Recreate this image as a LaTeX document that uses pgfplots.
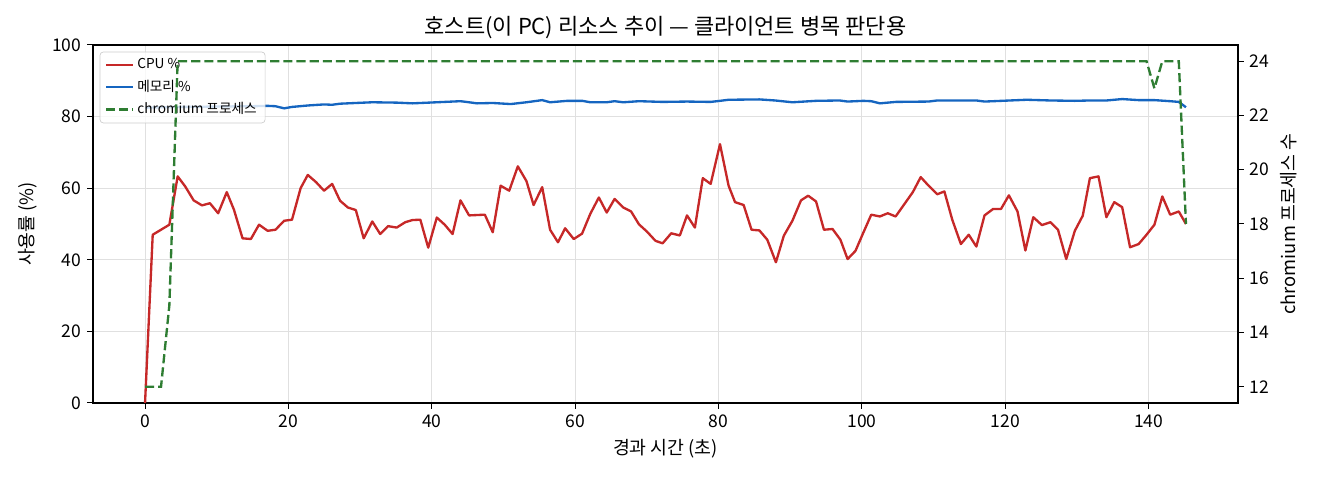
\documentclass[border=0pt]{standalone}
\usepackage{fontspec}
\setmainfont{Noto Sans CJK KR}
\usepackage{pgfplots}
\pgfplotsset{compat=1.18}

\definecolor{cpured}{HTML}{C62828}
\definecolor{memblue}{HTML}{1565C0}
\definecolor{procgreen}{HTML}{2E7D32}

\pgfplotsset{
 /pgf/number format/assume math mode=true,
 every axis/.append style={
  scale only axis,
  width=687pt,
  height=214.8pt,
  xmin=-7.26, xmax=152.46,
  tick align=outside,
  major tick length=3.5pt,
  tick style={black, line width=0.6pt},
  tick label style={font=\fontsize{10.5}{12}\selectfont},
  label style={font=\fontsize{11}{13}\selectfont},
 },
}

\begin{document}
\begin{tikzpicture}
 \begin{axis}[
  ymin=0, ymax=100,
  xtick={0,20,40,60,80,100,120,140},
  ytick={0,20,40,60,80,100},
  xtick pos=bottom,
  ytick pos=left,
  axis line style={line width=0.8pt},
  grid=major,
  major grid style={black!12, line width=0.6pt},
  xlabel={경과 시간 (초)},
  ylabel={사용률 (\%)},
  ylabel style={yshift=2pt},
  title={호스트(이 PC) 리소스 추이 — 클라이언트 병목 판단용},
  title style={font=\fontsize{13.2}{15}\selectfont, yshift=-6pt},
  legend cell align=left,
  legend style={
   at={(rel axis cs:0,1)}, anchor=north west,
   xshift=4pt, yshift=-4pt,
   font=\fontsize{8.2}{9.5}\selectfont,
   draw=black!20, rounded corners=2pt,
   fill=white, fill opacity=0.8, text opacity=1,
   row sep=1.2pt,
  },
  legend image code/.code={\draw[#1, line width=1.4pt] (0pt,0pt) -- (16pt,0pt);},
 ]
  \addplot[color=cpured, line width=1.4pt, line join=round] coordinates {
   (0,0) (1.07,47.0) (2.23,48.4) (3.39,49.8) (4.55,63.3) (5.6,60.5)
   (6.78,56.6) (7.94,55.2) (9.05,55.8) (10.2,53.0) (11.4,58.9) (12.4,54.0)
   (13.6,46.0) (14.76,45.8) (15.9,49.8) (17.1,48.1) (18.2,48.4) (19.4,50.9)
   (20.5,51.2) (21.7,60.0) (22.7,63.7) (23.85,61.7) (24.97,59.3) (26.1,61.2)
   (27.2,56.5) (28.3,54.6) (29.4,53.9) (30.5,46.0) (31.7,50.7) (32.8,47.2)
   (33.9,49.4) (35.1,49.0) (36.3,50.5) (37.3,51.1) (38.4,51.2) (39.5,43.4)
   (40.7,51.8) (41.8,49.8) (42.9,47.2) (44.0,56.6) (45.2,52.4) (46.3,52.5)
   (47.4,52.6) (48.5,47.7) (49.6,60.7) (50.8,59.3) (52.0,66.1) (53.2,62.0)
   (54.2,55.3) (55.4,60.3) (56.5,48.4) (57.6,44.9) (58.6,48.8) (59.8,45.8)
   (60.96,47.3) (62.1,52.8) (63.3,57.4) (64.4,53.2) (65.5,57.0) (66.7,54.6)
   (67.8,53.5) (68.9,49.9) (70.0,47.9) (71.2,45.3) (72.2,44.6) (73.4,47.4)
   (74.6,46.8) (75.6,52.4) (76.7,49.0) (77.8,62.8) (78.9,61.2) (80.2,72.3)
   (81.4,60.7) (82.3,56.1) (83.5,55.3) (84.6,48.4) (85.7,48.2) (86.8,45.6)
   (88.0,39.3) (89.1,46.7) (90.3,50.9) (91.5,56.6) (92.5,57.9) (93.6,56.3)
   (94.7,48.4) (95.9,48.6) (97.0,45.6) (98.0,40.2) (99.1,42.5) (100.2,47.6)
   (101.3,52.6) (102.5,52.1) (103.6,53.0) (104.7,52.1) (105.9,55.5) (107.1,58.9)
   (108.2,63.1) (109.3,60.7) (110.5,58.3) (111.5,59.1) (112.6,51.2) (113.8,44.4)
   (114.9,47.0) (115.96,43.7) (117.1,52.4) (118.3,54.2) (119.4,54.2) (120.5,58.0)
   (121.7,53.5) (122.8,42.6) (123.9,51.9) (125.1,49.7) (126.3,50.5) (127.35,48.4)
   (128.5,40.2) (129.7,48.1) (130.8,52.3) (131.8,62.8) (133.0,63.3) (134.1,51.9)
   (135.2,56.1) (136.3,54.7) (137.4,43.5) (138.6,44.4) (139.7,47.0) (140.8,49.8)
   (141.9,57.7) (143.0,52.6) (144.2,53.5) (145.2,50.0)
  };
  \addlegendentry{CPU \%}
  \addplot[color=memblue, line width=1.4pt, line join=round] coordinates {
   (0,82.5) (5,82.7) (10,82.8) (15,82.9) (17.1,83.0) (18.2,82.9) (19.4,82.3)
   (20.5,82.7) (22.7,83.1) (24.97,83.4) (26.1,83.3) (27.2,83.6) (29.4,83.8)
   (31.7,84.0) (35.1,83.9) (37.3,83.7) (40.7,84.0) (44.0,84.3) (45.2,84.0)
   (46.3,83.7) (48.5,83.8) (51.0,83.5) (53.2,84.0) (55.4,84.6) (56.5,84.0)
   (58.9,84.4) (61.0,84.4) (62.1,84.0) (64.4,84.0) (65.5,84.3) (66.7,84.0)
   (68.9,84.3) (72.2,84.1) (75.6,84.2) (78.9,84.1) (80.2,84.4) (81.4,84.7)
   (85.7,84.8) (87.9,84.5) (90.3,84.0) (93.6,84.4) (96.9,84.5) (98.0,84.2)
   (100.2,84.4) (101.3,84.3) (102.5,83.7) (104.7,84.1) (109.3,84.2) (110.5,84.5)
   (115.96,84.5) (117.1,84.2) (118.3,84.3) (123.0,84.7) (126.3,84.5) (129.7,84.4)
   (131.8,84.5) (134.1,84.5) (136.3,84.9) (138.6,84.6) (140.8,84.6) (143.0,84.3)
   (144.2,84.1) (145.2,82.6)
  };
  \addlegendentry{메모리 \%}
  \addlegendimage{color=procgreen, dash pattern=on 5.5pt off 2.4pt}
  \addlegendentry{chromium 프로세스}
 \end{axis}
 \begin{axis}[
  ymin=11.4, ymax=24.6,
  ytick={12,14,16,18,20,22,24},
  hide x axis,
  axis y line*=right,
  axis line style={line width=0.8pt},
  ylabel={chromium 프로세스 수},
 ]
  \addplot[color=procgreen, line width=1.4pt, dash pattern=on 5.5pt off 2.4pt] coordinates {
   (0,12) (1.07,12) (2.23,12) (3.39,15) (4.55,24) (20,24) (40,24) (60,24)
   (80,24) (100,24) (120,24) (139.7,24) (140.8,23) (141.9,24) (143.0,24)
   (144.2,24) (145.2,18)
  };
 \end{axis}
 \pgfresetboundingbox
 \path (-55.8pt,-46.2pt) rectangle (736.2pt,241.8pt);
\end{tikzpicture}
\end{document}
